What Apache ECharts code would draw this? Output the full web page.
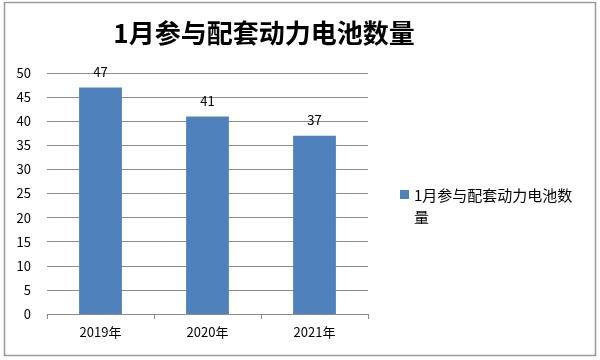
<!DOCTYPE html>
<html>
<head>
<meta charset="utf-8">
<script src="https://cdn.jsdelivr.net/npm/echarts@6/dist/echarts.min.js"></script>
<style>html,body{margin:0;padding:0;background:#fff;}#c{width:600px;height:360px;}</style>
</head>
<body>
<div id="c"></div>
<script>
var titleText = '1月参与配套动力电池数量';
var seriesName = '1月参与配套动力电池数量';
var categories = ['2019年', '2020年', '2021年'];
var values = [47, 41, 37];
var yMin = 0, yMax = 50, yInterval = 5;

var chart = echarts.init(document.getElementById('c'));
var font = '"Noto Sans CJK SC", "DejaVu Sans", sans-serif';
chart.setOption({
  animation: false,
  backgroundColor: '#fff',
  textStyle: { fontFamily: font },
  graphic: [{
    type: 'rect', shape: { x: 4.5, y: 2.5, width: 591, height: 353 },
    style: { fill: 'none', stroke: '#9a9a9a', lineWidth: 1.5 }, z: -1
  }],
  title: {
    text: titleText, left: 259, top: 15, textAlign: 'center',
    textStyle: { fontSize: 26, fontWeight: 'bold', color: '#000', fontFamily: font }
  },
  legend: {
    left: 395, top: 179, orient: 'vertical', itemWidth: 9, itemHeight: 32, itemGap: 4,
    icon: 'path://M0,0h9v9h-9z M0,31.99h0.01v0.01h-0.01z',
    formatter: function (n) { return n.slice(0, 11) + '\n' + n.slice(11); },
    textStyle: { fontSize: 15, color: '#000', lineHeight: 22, fontFamily: font }
  },
  grid: { left: 47, right: 232, top: 73, bottom: 46 },
  xAxis: {
    type: 'category', data: categories,
    axisLine: { lineStyle: { color: '#8c8c8c', width: 1 } },
    axisTick: { show: true, length: 5, lineStyle: { color: '#8c8c8c' } },
    axisLabel: { color: '#000', fontSize: 13, margin: 12, fontFamily: font }
  },
  yAxis: {
    type: 'value', min: yMin, max: yMax, interval: yInterval,
    axisLine: { show: false },
    axisTick: { show: false },
    splitLine: { lineStyle: { color: '#8c8c8c', width: 1 } },
    axisLabel: { color: '#000', fontSize: 13, margin: 16, fontFamily: font }
  },
  series: [{
    name: seriesName, type: 'bar', data: values,
    barCategoryGap: '60%',
    itemStyle: { color: '#4f81bd' },
    label: { show: true, position: 'top', distance: 9, color: '#000', fontSize: 13, fontFamily: font }
  }]
});
</script>
</body>
</html>
